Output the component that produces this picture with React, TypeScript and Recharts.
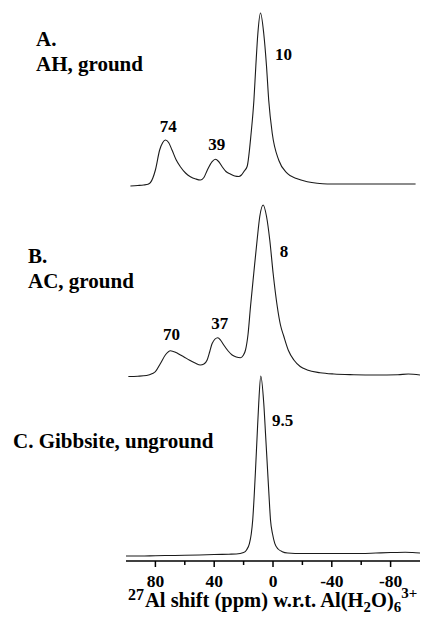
import React from "react";
import { ComposedChart, Line, XAxis, YAxis, ReferenceDot } from "recharts";

// ---- spectrum A: AH, ground ----
const ppmA = [97, 92, 88, 85, 83.4, 80, 77.1, 75, 73.2, 71, 68.7, 66, 63, 59.5, 56.2, 52.5, 49.4, 47, 44.8, 41.4, 39.2, 37, 34.6, 32, 29, 26, 23.3, 21.5, 19.9, 17.6, 14.9, 13, 11.7, 10.3, 8.5, 6.3, 4.4, 2.9, 0.5, -4, -9.7, -16, -23.3, -30, -36.9, -50, -65, -80, -97];
const intA = [-0.5, 0, 0.5, 1.2, 2.8, 15.5, 35.5, 43, 45.5, 43, 35.5, 26, 18.8, 12.5, 8.8, 6.5, 5.5, 8, 15, 23.8, 26.2, 24, 18.8, 14, 11.5, 9.5, 9, 10.5, 13.8, 19, 52, 85, 119, 152, 172.5, 152, 119, 85, 52, 25, 12.2, 7, 3.8, 2.2, 1.5, 1.5, 1.5, 1.5, 1.5];

// ---- spectrum B: AC, ground ----
const ppmB = [98.4, 92, 86, 82, 80, 76.6, 73, 69.8, 66, 63, 60.8, 57, 53, 49.4, 47, 44.8, 43, 41.4, 37.6, 35.5, 33.5, 30.5, 27.8, 25, 22.1, 20.3, 18.7, 17, 15.3, 13.1, 10.8, 9, 6.7, 4.4, 2.2, -0.1, -2.9, -5, -7.4, -10.5, -14.2, -18.5, -23.3, -32, -41.4, -55, -70, -85, -92, -100];
const intB = [0, 0.3, 1, 3, 4.8, 13, 22, 25.8, 24, 21.5, 19.8, 16.5, 13.5, 11.5, 12.5, 16.5, 25, 33, 38.8, 36, 31.5, 25.5, 21.5, 19.5, 18.8, 21, 26.5, 42, 70, 103, 136.5, 160, 171.5, 160, 136.5, 103, 70, 52, 40, 26, 16.5, 10, 6.5, 3.8, 2.5, 1.8, 1.5, 1.8, 2.5, 1.5];

// ---- spectrum C: Gibbsite, unground ----
const ppmC = [100, 90, 80, 70, 60, 50, 40, 30, 25, 20, 18, 16, 14.8, 13.8, 12.8, 11.9, 10.8, 9.7, 8.3, 6.3, 5, 3.7, 2.7, 1.7, 0.3, -1.2, -3.5, -6.3, -10, -20, -30, -40, -50, -60, -70, -80, -90, -95, -100];
const intC = [0, 0, 0.3, 0.5, 0.7, 1, 1.5, 1.8, 2, 3.5, 6, 12.7, 22, 36, 60, 86, 120, 153, 180, 153, 120, 86, 60, 36, 22, 12.7, 7, 4.3, 3, 2.5, 2.5, 2.5, 2.5, 2.5, 3, 3.5, 3.8, 3.5, 3];

// vertical stacking offsets of the three traces
const offsetA = 375.5;
const offsetB = 184.5;
const offsetC = 5;

// x-axis ticks
const majorTicks = [80, 40, 0, -40, -80];
const allTicks = [80, 60, 40, 20, 0, -20, -40, -60, -80];

// peak annotations
const peakText = ["74", "39", "10", "70", "37", "8", "9.5"];
const peakPpm = [71.2, 38.3, -7.2, 69.1, 36.2, -7.5, -6.6];
const peakVal = [435, 417, 507, 227, 238, 309.3, 140.3];

const build = (ppm: number[], ints: number[], off: number) =>
  ppm.map((p, i) => ({ ppm: p, v: ints[i] + off }));

const dataA = build(ppmA, intA, offsetA);
const dataB = build(ppmB, intB, offsetB);
const dataC = build(ppmC, intC, offsetC);

const FONT = "'Liberation Serif', 'DejaVu Serif', serif";
const textStyle = { fontFamily: FONT, fontWeight: 700 } as React.CSSProperties;

const Tick = (props: any) => {
  const { x, y, payload } = props;
  const major = majorTicks.includes(payload.value);
  return (
    <g>
      <line x1={x} x2={x} y1={y} y2={y + (major ? 6 : 4)} stroke="#000" strokeWidth={1.5} />
      {major && (
        <text x={x} y={y + 25.5} textAnchor="middle" style={{ ...textStyle, fontSize: 17.5 }} fill="#000">
          {payload.value}
        </text>
      )}
    </g>
  );
};

const PeakLabel = (text: string) => (props: any) => (
  <text x={props.cx} y={props.cy} textAnchor="middle" dominantBaseline="central" style={{ ...textStyle, fontSize: 17 }} fill="#000">
    {text}
  </text>
);

export default function App() {
  return (
    <div style={{ position: "absolute", left: 0, top: 0, width: 423, height: 617, background: "#fff" }}>
      <ComposedChart width={423} height={617} margin={{ top: 0, right: 3, bottom: 26, left: 126 }}>
        <XAxis
          type="number"
          dataKey="ppm"
          domain={[-100, 100]}
          reversed
          allowDataOverflow
          ticks={allTicks}
          interval={0}
          height={30}
          tickSize={0}
          tickMargin={0}
          tickLine={false}
          axisLine={{ stroke: "#000", strokeWidth: 1.5 }}
          tick={<Tick />}
        />
        <YAxis type="number" domain={[0, 561]} hide allowDataOverflow />
        <Line data={dataA} dataKey="v" type="monotone" stroke="#1a1a1a" strokeWidth={1.1} dot={false} isAnimationActive={false} />
        <Line data={dataB} dataKey="v" type="monotone" stroke="#1a1a1a" strokeWidth={1.1} dot={false} isAnimationActive={false} />
        <Line data={dataC} dataKey="v" type="monotone" stroke="#1a1a1a" strokeWidth={1.1} dot={false} isAnimationActive={false} />
        {peakText.map((t, i) => (
          <ReferenceDot key={t + i} x={peakPpm[i]} y={peakVal[i]} r={0} ifOverflow="visible" shape={PeakLabel(t)} />
        ))}
      </ComposedChart>
      <svg width={423} height={617} style={{ position: "absolute", left: 0, top: 0, pointerEvents: "none" }}>
        <g style={{ ...textStyle, fontSize: 21 }} fill="#000">
          <text x={36} y={46}>A.</text>
          <text x={36} y={70.7}>AH, ground</text>
          <text x={28} y={263.3}>B.</text>
          <text x={28} y={288.3}>AC, ground</text>
          <text x={13} y={448.3}>C. Gibbsite, unground</text>
          <text x={128} y={607} style={{ fontSize: 20.5 }}>
            <tspan style={{ fontSize: 16 }} dy={-7}>27</tspan>
            <tspan dx={1} dy={7}>Al shift (ppm) w.r.t. Al(H</tspan>
            <tspan style={{ fontSize: 15 }} dy={5}>2</tspan>
            <tspan dy={-5}>O)</tspan>
            <tspan style={{ fontSize: 15 }} dy={5}>6</tspan>
            <tspan style={{ fontSize: 15 }} dy={-14}>3+</tspan>
          </text>
        </g>
      </svg>
    </div>
  );
}
